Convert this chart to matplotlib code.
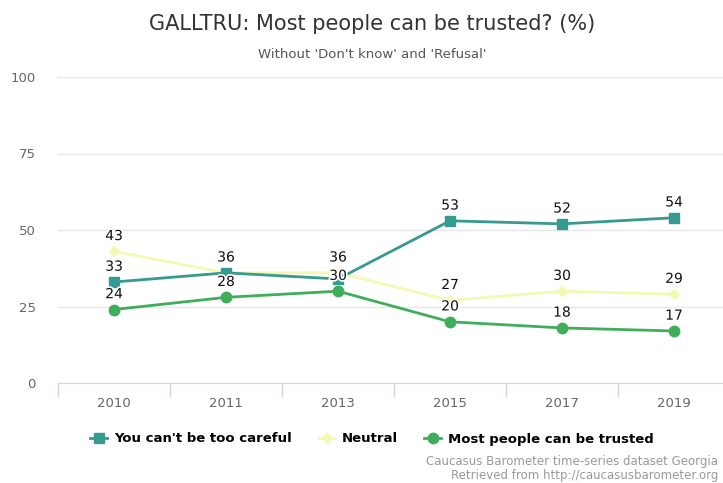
import matplotlib
matplotlib.use("Agg")
import matplotlib.pyplot as plt
import matplotlib.patheffects as pe

years = ['2010', '2011', '2013', '2015', '2017', '2019']
too_careful = [33, 36, 34, 53, 52, 54]
neutral = [43, 36, 36, 27, 30, 29]
trusted = [24, 28, 30, 20, 18, 17]

# labels that the original chart hides because they overlap
hide_careful = [False, False, True, False, False, False]

c_careful = '#379a90'
c_neutral = '#f4f9b2'
c_trusted = '#3fae5a'

W, H = 723, 483
fig = plt.figure(figsize=(W / 100, H / 100), dpi=100)
# plot area in pixels: x 58..730, y 77..383
ax = fig.add_axes([58 / W, 1 - 383 / H, 672 / W, 306 / H])

x = list(range(len(years)))
ax.plot(x, too_careful, color=c_careful, lw=2, marker='s', ms=7, zorder=3,
        label="You can't be too careful")
ax.plot(x, neutral, color=c_neutral, lw=2, marker='D', ms=5.5, zorder=2,
        label='Neutral')
ax.plot(x, trusted, color=c_trusted, lw=2, marker='o', ms=7.5, zorder=3,
        label='Most people can be trusted')

outline = [pe.withStroke(linewidth=2.5, foreground='white')]
for series, hide in [(too_careful, hide_careful), (neutral, [False] * 6), (trusted, [False] * 6)]:
    for i, v in enumerate(series):
        if hide[i]:
            continue
        ax.annotate(str(v), (i, v), xytext=(0, 6), textcoords='offset points',
                    ha='center', va='bottom', fontsize=10, color='#111111',
                    path_effects=outline, zorder=5)

ax.set_xlim(-0.5, len(years) - 0.5)
ax.set_ylim(0, 100)
ax.set_yticks([0, 25, 50, 75, 100])
ax.set_yticklabels(['0', '25', '50', '75', '100'], color='#666666', fontsize=9.5)
ax.tick_params(axis='y', length=0, pad=16)
ax.yaxis.grid(True, color='#e6e6e6', lw=1)
ax.set_axisbelow(True)

ax.set_xticks(x)
ax.set_xticklabels(years, color='#666666', fontsize=9.5)
ax.tick_params(axis='x', which='major', length=0, pad=10)
ax.set_xticks([i - 0.5 for i in range(len(years) + 1)], minor=True)
ax.tick_params(axis='x', which='minor', length=10, color='#ccd6eb', width=1)

for s in ['top', 'right', 'left']:
    ax.spines[s].set_visible(False)
ax.spines['bottom'].set_color('#ccd6eb')

fig.text(372 / W, 1 - 24 / H, 'GALLTRU: Most people can be trusted? (%)',
         ha='center', va='center', fontsize=15, color='#333333')
fig.text(372 / W, 1 - 55 / H, "Without 'Don't know' and 'Refusal'",
         ha='center', va='center', fontsize=9.5, color='#555555')

leg = fig.legend(loc='center', bbox_to_anchor=(372 / W, 1 - 439 / H), ncol=3,
                 frameon=False, prop={'weight': 'bold', 'size': 9.5},
                 handlelength=1.3, columnspacing=2.0, handletextpad=0.5)

fig.text(718 / W, 1 - 461 / H, 'Caucasus Barometer time-series dataset Georgia',
         ha='right', va='center', fontsize=8.5, color='#999999')
fig.text(718 / W, 1 - 475 / H, 'Retrieved from http://caucasusbarometer.org',
         ha='right', va='center', fontsize=8.5, color='#999999')

fig.savefig('out.png', dpi=100)
